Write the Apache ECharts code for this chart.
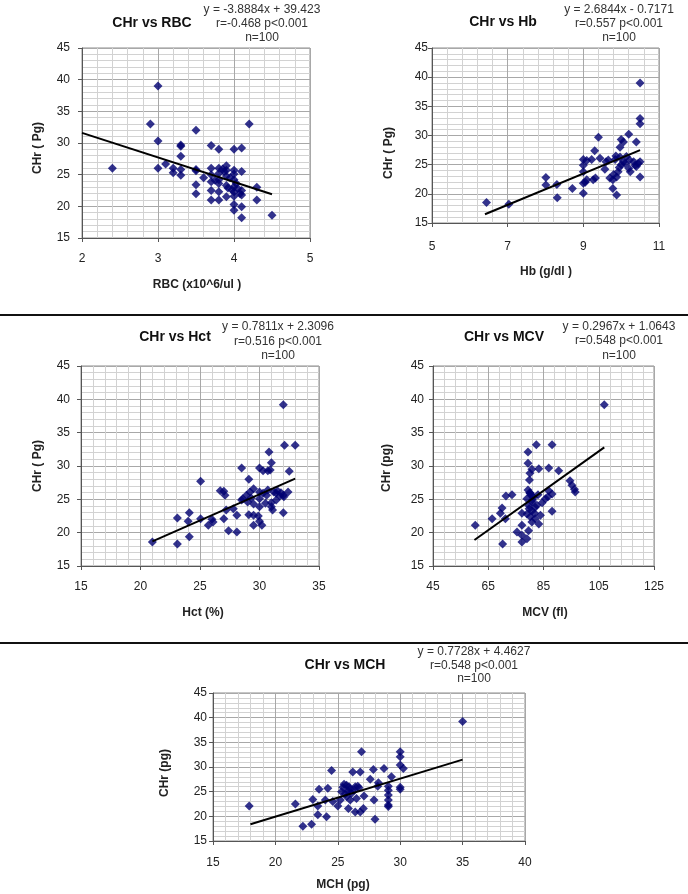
<!DOCTYPE html>
<html><head><meta charset="utf-8">
<script src="https://cdn.jsdelivr.net/npm/echarts@6/dist/echarts.min.js"></script>
<style>html,body{margin:0;padding:0;background:#fff}#c{width:688px;height:894px}</style>
</head><body><div id="c"></div>
<script>
// ---------- DATA ----------
const rbcPoints = [[3.0,39],[2.9,33],[4.2,33],[3.5,32],[3.0,30.3],[3.3,29.5],[3.3,29.7],[3.7,29.6],[3.8,29],[4.0,29],[4.1,29.2],[3.3,27.9],[2.4,26],[3.0,26],[3.1,26.7],[3.2,26],[3.2,25.3],[3.3,25.8],[3.3,24.9],[3.5,25.8],[3.5,25.6],[3.6,24.5],[3.5,23.4],[3.5,22.0],[3.7,26],[3.7,25],[3.7,23.9],[3.7,22.5],[3.7,21.0],[3.8,26],[3.8,25.2],[3.8,24.2],[3.8,23.6],[3.8,22.3],[3.8,21.0],[3.9,26.4],[3.9,25.7],[3.9,24.8],[3.9,23.3],[3.9,21.5],[3.87,25.5],[4.0,25.7],[4.0,25.1],[4.0,24.2],[4.0,23.1],[4.0,22.3],[4.0,21.6],[4.0,20.3],[4.0,19.4],[4.1,25.5],[4.1,22.5],[4.1,21.8],[4.1,19.95],[4.1,18.2],[4.3,23],[4.3,21],[4.5,18.6],[4.03,23.6],[3.97,22.6],[3.85,25.9],[3.95,24.5],[4.05,22.8],[4.08,22.0],[3.75,24.1],[3.92,22.9]];
const rbcTrend = [[2,31.6],[4.5,21.9]];

const hbPoints = [[10.5,39],[10.5,32.9],[10.5,32],[9.4,29.7],[10.2,30.2],[10.0,29.3],[10.06,28.9],[10.4,28.9],[9.97,28],[9.3,27.4],[9.0,25.9],[9.09,25.7],[9.22,25.9],[9.44,26.1],[9.66,25.8],[9.84,25.9],[9.97,26.3],[10.06,25.5],[10.22,25.8],[10.33,25.5],[10.5,25.5],[10.4,24.7],[10.2,24.4],[9.57,24.2],[9.0,24.9],[9.0,23.8],[9.09,22.4],[9.26,22.4],[9.32,22.7],[9.7,22.7],[9.78,22.4],[9.88,22.9],[9.92,23.8],[9.0,21.8],[9.0,20.1],[9.78,20.9],[9.88,19.8],[10.5,22.9],[8.01,22.8],[8.01,21.5],[8.3,21.6],[8.31,19.35],[8.71,20.9],[7.03,18.2],[6.44,18.5],[9.86,26.5],[10.14,26.4],[10.0,25.0],[10.24,23.8],[10.37,24.9],[9.05,22.0],[9.8,23.3],[9.95,24.5],[10.1,25.2],[10.45,25.2],[9.6,25.5]];
const hbTrend = [[6.4,16.5],[10.5,27.5]];

const hctPoints = [[32,39.2],[32.1,33.1],[33.0,33.1],[30.8,32.1],[31.0,30.5],[30.0,29.7],[30.3,29.3],[30.9,29.4],[28.5,29.7],[32.5,29.2],[29.1,28],[25.05,27.7],[26.7,26.3],[27.0,26.2],[27.1,25.6],[28.6,25.1],[28.9,25.6],[29.2,26.1],[29.5,26.6],[30.0,26.1],[30.3,25.9],[30.7,26.4],[31.2,26.1],[31.4,25.9],[31.7,25.5],[32.0,25.6],[32.4,26.1],[32.05,25.4],[31.4,24.9],[31.0,24.5],[30.5,24.4],[30.0,25.1],[29.5,24.3],[29.1,22.7],[29.5,22.6],[29.9,22.5],[30.0,23.9],[31.0,23.9],[31.1,23.4],[32.0,23.0],[29.5,21.1],[30.2,21.1],[30.0,21.7],[27.8,23.6],[28.1,22.6],[27.0,22.1],[27.4,20.3],[28.1,20.1],[27.2,23.4],[26.0,22.0],[25.7,21.1],[26.1,21.6],[25.05,22.1],[24.1,23.0],[24.0,21.7],[23.1,22.2],[24.1,19.4],[23.1,18.3],[21.0,18.6],[30.7,29.3],[28.5,24.9],[29.3,25.2],[31.5,26.3],[31.8,26.0],[30.6,25.6],[29.0,24.6]];
const hctTrend = [[21,18.7],[33,28.1]];

const mcvPoints = [[107,39.2],[82.4,33.2],[88.1,33.2],[79.4,32.1],[79.4,30.4],[80.8,29.5],[83.3,29.6],[86.9,29.7],[90.5,29.3],[80.1,28.9],[79.9,27.9],[94.6,27.8],[95.3,27.1],[96.2,26.5],[96.5,26.1],[71.4,25.5],[73.6,25.7],[79.4,26.4],[80.2,25.9],[81.4,25.3],[79.0,25.1],[83.0,25.7],[85.7,25.1],[88.1,25.8],[86.6,25.4],[80.8,24.6],[79.6,24.1],[82.0,23.8],[80.8,23.3],[79.0,22.8],[77.2,22.9],[80.2,22.4],[83.9,22.6],[88.1,23.2],[82.0,22.1],[83.3,21.3],[80.8,21.6],[70.0,23.7],[69.4,22.9],[66.4,22.1],[71.2,22.1],[60.3,21.1],[77.2,21.1],[79.6,20.3],[75.4,20.1],[77.2,19.6],[79.0,19.1],[77.2,18.6],[70.2,18.3],[86.9,26.3],[82.6,24.1],[80.5,25.6],[81.0,24.9],[79.8,23.6],[81.8,22.9],[80.0,26.0],[84.5,24.5]];
const mcvTrend = [[60,18.9],[107,32.8]];

const mchPoints = [[35,39.2],[26.9,33.1],[30.0,33.1],[30.0,32.1],[30.0,30.4],[30.25,29.7],[24.5,29.3],[26.2,29.0],[26.8,29.0],[27.85,29.5],[28.7,29.7],[29.3,28.0],[27.6,27.5],[28.25,26.8],[28.2,26.1],[29.05,26.1],[29.05,25.3],[30.0,25.9],[30.0,25.5],[23.5,25.5],[24.2,25.7],[25.4,25.9],[25.7,26.3],[26.0,25.5],[26.4,26.0],[26.6,26.1],[25.3,25.0],[26.1,24.7],[27.1,24.1],[26.5,23.6],[25.7,24.0],[29.05,24.3],[29.05,23.3],[27.9,23.3],[29.05,22.3],[29.05,22.0],[23.0,23.4],[24.0,23.3],[25.0,22.1],[24.6,23.0],[21.6,22.5],[17.9,22.1],[23.4,22.1],[25.85,21.6],[26.4,20.9],[27.05,21.6],[26.8,20.9],[23.4,20.3],[24.1,19.9],[27.98,19.4],[22.9,18.4],[22.2,18.0],[25.2,23.3],[26.0,23.3],[25.5,26.5],[25.9,26.0],[26.3,25.3],[25.8,25.2],[26.7,25.8],[25.6,24.6]];
const mchTrend = [[18,18.4],[35,31.5]];

const titles = ['CHr vs RBC','CHr vs Hb','CHr vs Hct','CHr vs MCV','CHr vs MCH'];
const equations = [
  ['y = -3.8884x + 39.423','r=-0.468 p<0.001','n=100'],
  ['y = 2.6844x - 0.7171','r=0.557 p<0.001','n=100'],
  ['y = 0.7811x + 2.3096','r=0.516 p<0.001','n=100'],
  ['y = 0.2967x + 1.0643','r=0.548 p<0.001','n=100'],
  ['y = 0.7728x + 4.4627','r=0.548 p<0.001','n=100']
];
const xNames = ['RBC (x10^6/ul )','Hb (g/dl )','Hct (%)','MCV (fl)','MCH (pg)'];
const yNames = ['CHr ( Pg)','CHr ( Pg)','CHr ( Pg)','CHr (pg)','CHr (pg)'];
const xRanges = [[2,5,1],[5,11,2],[15,35,5],[45,125,20],[15,40,5]];
const yRange = [15,45,5];

const pointSets = [rbcPoints,hbPoints,hctPoints,mcvPoints,mchPoints];
const trendSets = [rbcTrend,hbTrend,hctTrend,mcvTrend,mchTrend];

// ---------- LAYOUT ----------
const layout = [
  {grid:[82,48,228,190], yM:12, xM:15, t:[152,23], eq:[262,[10,24,38]], xn:[197,285], yn:[38,148]},
  {grid:[432,48,227,175], yM:4, xM:18, t:[503,22], eq:[619,[10,24,38]], xn:[546,272], yn:[389,153]},
  {grid:[81,366,238,200], yM:11, xM:15, t:[175,337], eq:[278,[327,342,356]], xn:[203,613], yn:[38,466]},
  {grid:[433,366,221,200], yM:9, xM:15, t:[504,337], eq:[619,[327,341,356]], xn:[545,613], yn:[387,468]},
  {grid:[213,693,312,148], yM:6, xM:16, t:[345,665], eq:[474,[652,666,679]], xn:[343,885], yn:[165,773]}
];

const FONT = '"Liberation Sans", Arial, sans-serif';
const grids=[], xAxes=[], yAxes=[], series=[], graphics=[];

layout.forEach((L,i)=>{
  grids.push({left:L.grid[0], top:L.grid[1], width:L.grid[2], height:L.grid[3],
    show:true, borderColor:'#8c8c8c', borderWidth:1, backgroundColor:'#fff', containLabel:false});
  const common = {
    gridIndex:i, type:'value',
    axisLine:{show:true, onZero:false, lineStyle:{color:'#555', width:1}},
    axisTick:{show:true, inside:false, length:4, lineStyle:{color:'#555'}},
    splitLine:{show:true, lineStyle:{color:'#a8a8a8', width:1}},
    minorTick:{show:false, splitNumber:5},
    minorSplitLine:{show:true, lineStyle:{color:'#d2d2d2', width:1}},
  };
  xAxes.push(Object.assign({}, common, {
    min:xRanges[i][0], max:xRanges[i][1], interval:xRanges[i][2],
    axisLabel:{margin:L.xM, color:'#222', fontSize:12, fontFamily:FONT}
  }));
  yAxes.push(Object.assign({}, common, {
    min:yRange[0], max:yRange[1], interval:yRange[2],
    axisLabel:{margin:L.yM, color:'#222', fontSize:12, fontFamily:FONT}
  }));
  series.push({type:'scatter', xAxisIndex:i, yAxisIndex:i, data:pointSets[i],
    symbol:'diamond', symbolSize:9, itemStyle:{color:'#000070'}, z:2, silent:true});
  series.push({type:'line', xAxisIndex:i, yAxisIndex:i, data:trendSets[i],
    showSymbol:false, symbol:'none', lineStyle:{color:'#000', width:2}, z:3, silent:true});

  graphics.push({type:'text', x:L.t[0], y:L.t[1], style:{text:titles[i], align:'center', verticalAlign:'middle',
    font:'bold 14px '+FONT, fill:'#111'}});
  equations[i].forEach((s,k)=>{
    graphics.push({type:'text', x:L.eq[0], y:L.eq[1][k], style:{text:s, align:'center', verticalAlign:'middle',
      font:'12px '+FONT, fill:'#333'}});
  });
  graphics.push({type:'text', x:L.xn[0], y:L.xn[1], style:{text:xNames[i], align:'center', verticalAlign:'middle',
    font:'bold 12px '+FONT, fill:'#222'}});
  graphics.push({type:'text', x:L.yn[0], y:L.yn[1], rotation:Math.PI/2, style:{text:yNames[i], align:'center', verticalAlign:'middle',
    font:'bold 12px '+FONT, fill:'#222'}});
});

graphics.push({type:'line', shape:{x1:0,y1:315,x2:688,y2:315}, style:{stroke:'#111', lineWidth:2}});
graphics.push({type:'line', shape:{x1:0,y1:643,x2:688,y2:643}, style:{stroke:'#111', lineWidth:2}});

const chart = echarts.init(document.getElementById('c'), null, {renderer:'canvas'});
chart.setOption({
  animation:false,
  backgroundColor:'#fff',
  grid:grids, xAxis:xAxes, yAxis:yAxes, series:series, graphic:graphics
});
</script></body></html>
